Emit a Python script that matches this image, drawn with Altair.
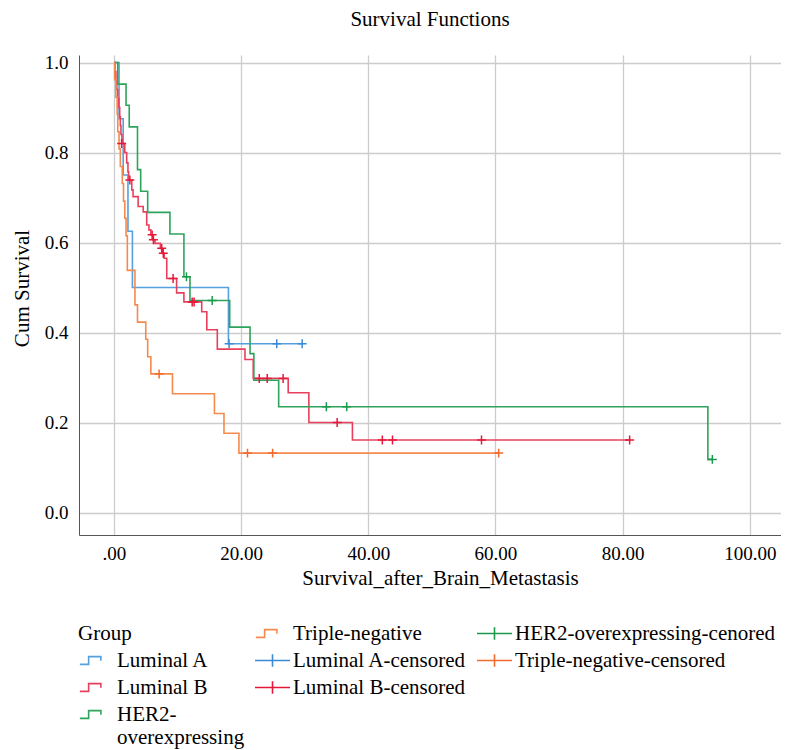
import altair as alt
import pandas as pd

# ---------------- data ----------------
# Luminal A
LUMA_T = [0, 0.8, 1.45, 2.2, 2.9, 18.0, 29.6]
LUMA_S = [1.0, 0.875, 0.75, 0.625, 0.5, 0.375, 0.375]
LUMA_CT = [18.1, 25.6, 29.6]
LUMA_CS = [0.375, 0.375, 0.375]

# Luminal B
LUMB_T = [0, 0.15, 0.3, 0.45, 0.6, 0.75, 0.9, 1.0, 1.1, 1.25, 1.7, 2.0, 2.2, 2.3, 2.8, 3.0,
          3.8, 4.6, 5.15, 5.5, 5.8, 6.1, 6.45, 7.3, 7.6, 7.9, 8.3, 9.85, 11.0, 13.8, 14.6,
          16.25, 20.6, 21.9, 27.4, 30.65, 37.5, 81.1]
LUMB_S = [1.0, 0.98, 0.96, 0.94, 0.92, 0.90, 0.88, 0.86, 0.84, 0.82, 0.80, 0.777, 0.757, 0.739,
          0.717, 0.702, 0.68, 0.668, 0.639, 0.628, 0.617, 0.606, 0.598, 0.587, 0.576, 0.565,
          0.52, 0.488, 0.468, 0.446, 0.406, 0.363, 0.340, 0.298, 0.266, 0.200, 0.161, 0.161]
LUMB_CT = [1.2, 2.5, 6.0, 6.2, 7.5, 7.75, 9.3, 12.3, 12.6, 22.85, 24.1, 26.6, 35.1, 42.2,
           43.8, 57.8, 81.1]
LUMB_CS = [0.82, 0.739, 0.617, 0.606, 0.587, 0.576, 0.52, 0.468, 0.468, 0.298, 0.298, 0.298,
           0.200, 0.161, 0.161, 0.161, 0.161]

# HER2-overexpressing
HER2_T = [0, 0.6, 1.9, 2.4, 3.7, 4.2, 5.3, 8.8, 11.0, 11.95, 18.2, 21.4, 22.0, 25.9, 93.4, 94.1]
HER2_S = [1.0, 0.952, 0.905, 0.857, 0.762, 0.714, 0.667, 0.619, 0.524, 0.471, 0.412, 0.353,
          0.294, 0.235, 0.118, 0.118]
HER2_CT = [11.4, 15.45, 33.4, 36.6, 94.1]
HER2_CS = [0.524, 0.471, 0.235, 0.235, 0.118]

# Triple-negative
TN_T = [0, 0.1, 0.3, 0.5, 0.6, 0.8, 1.0, 1.3, 1.5, 1.7, 1.9, 2.1, 3.3, 3.7, 5.0, 5.3, 5.8,
        9.2, 15.8, 17.3, 19.65, 60.5]
TN_S = [1.0, 0.962, 0.923, 0.885, 0.846, 0.808, 0.769, 0.731, 0.692, 0.654, 0.615, 0.538,
        0.4615, 0.423, 0.385, 0.346, 0.308, 0.264, 0.220, 0.176, 0.132, 0.132]
TN_CT = [7.1, 21.0, 24.95, 60.5]
TN_CS = [0.308, 0.132, 0.132, 0.132]

GROUPS = ["Luminal A", "Luminal B", "HER2-overexpressing", "Triple-negative"]
CENSORED = ["Luminal A-censored", "Luminal B-censored", "HER2-overexpressing-cenored",
            "Triple-negative-censored"]

X_TICKS = [0, 20, 40, 60, 80, 100]
Y_TICKS = [0.0, 0.2, 0.4, 0.6, 0.8, 1.0]

# ---------------- tables ----------------
curves = [(LUMA_T, LUMA_S), (LUMB_T, LUMB_S), (HER2_T, HER2_S), (TN_T, TN_S)]
cens = [(LUMA_CT, LUMA_CS), (LUMB_CT, LUMB_CS), (HER2_CT, HER2_CS), (TN_CT, TN_CS)]

rows = []
for name, (ts, ss) in zip(GROUPS, curves):
    for i, (t, s) in enumerate(zip(ts, ss)):
        rows.append({"t": t, "s": s, "series": name, "i": i})
lines_df = pd.DataFrame(rows)

crow = []
for name, (ts, ss) in zip(CENSORED, cens):
    for t, s in zip(ts, ss):
        crow.append({"t": t, "s": s, "series": name})
cens_df = pd.DataFrame(crow)

# ---------------- styling ----------------
FONT = "Liberation Serif"
C_BLUE, C_BLUE_C = "#55a0de", "#3b8bd4"
C_RED, C_RED_C = "#e8405c", "#e5183a"
C_GREEN, C_GREEN_C = "#2ea35c", "#1b9a4c"
C_ORANGE, C_ORANGE_C = "#f58a4e", "#f26a2c"
NONE = "transparent"

STEP = "M-0.95,0.22H-0.45V-0.22H0.25V0.02"
CROSS_L = "M-1,0H1M0,-0.36V0.36"
CROSS = "M-1,0H1M0,-1V1"

# legend entries, column by column (4 rows x 3 columns)
LEG_DOMAIN = ["_b1", "Luminal A", "Luminal B", "HER2-overexpressing",
              "Triple-negative", "Luminal A-censored", "Luminal B-censored", "_b2",
              "HER2-overexpressing-cenored", "Triple-negative-censored", "_b3", "_b4"]
GROUP_RANGE = [NONE, C_BLUE, C_RED, C_GREEN,
               C_ORANGE, NONE, NONE, NONE,
               NONE, NONE, NONE, NONE]
CENS_RANGE = [NONE, NONE, NONE, NONE,
              NONE, C_BLUE_C, C_RED_C, NONE,
              C_GREEN_C, C_ORANGE_C, NONE, NONE]

group_scale = alt.Scale(domain=LEG_DOMAIN, range=GROUP_RANGE)
cens_scale = alt.Scale(domain=LEG_DOMAIN, range=CENS_RANGE)

AX = dict(labelFont=FONT, labelFontSize=19, labelColor="#000000",
          titleFont=FONT, titleFontSize=21, titleFontWeight="normal", titleColor="#000000",
          gridColor="#cccccc", gridWidth=1.3, domainColor="#555555", domainWidth=1,
          ticks=False)

x_enc = alt.X("t:Q", scale=alt.Scale(domain=[-5.5, 104.9], nice=False, zero=False),
              axis=alt.Axis(values=X_TICKS, title="Survival_after_Brain_Metastasis",
                            labelExpr="datum.value == 0 ? '.00' : format(datum.value, '.2f')",
                            labelPadding=9, titlePadding=4, titleX=361, **AX))
y_enc = alt.Y("s:Q", scale=alt.Scale(domain=[-0.05, 1.0167], nice=False, zero=False),
              axis=alt.Axis(values=Y_TICKS, format=".1f", title="Cum Survival",
                            labelPadding=11, titlePadding=12, titleY=233, **AX))

lines = alt.Chart(lines_df).mark_line(interpolate="step-after", strokeWidth=1.6).encode(
    x=x_enc, y=y_enc,
    color=alt.Color("series:N", scale=group_scale, legend=None),
    order="i:Q",
)

marks = alt.Chart(cens_df).mark_point(shape=CROSS, size=80, filled=False, strokeWidth=1.5,
                                       opacity=1).encode(
    x="t:Q", y="s:Q",
    color=alt.Color("series:N", scale=cens_scale, legend=None),
)

LEG_COMMON = dict(
    orient="none", legendX=-1, legendY=568, columns=3, direction="vertical",
    symbolSize=1225, symbolStrokeWidth=1.6, clipHeight=21, rowPadding=5, columnPadding=9,
    labelOffset=2, labelFont=FONT, labelFontSize=21, labelLimit=400,
    titleFont=FONT, titleFontSize=21, titleFontWeight="normal",
    titlePadding=-21, padding=0,
    labelExpr="datum.label == 'HER2-overexpressing' ? ['HER2-', 'overexpressing'] : "
              "(substring(datum.label, 0, 2) == '_b' ? '' : datum.label)",
)

legend_groups = alt.Legend(title="Group", symbolType=STEP, labelColor="#000000",
                           titleColor="#000000", **LEG_COMMON)
legend_cens = alt.Legend(title="Group", symbolType=CROSS_L, labelColor=NONE,
                         titleColor=NONE, **LEG_COMMON)

leg_a = alt.Chart(cens_df).mark_point(filled=False, opacity=1, strokeWidth=1.6,
                                       shape=STEP).encode(
    color=alt.Color("series:N", scale=group_scale, legend=legend_groups),
).transform_filter("false")

leg_b = alt.Chart(cens_df).mark_point(filled=False, opacity=1, strokeWidth=1.6,
                                       shape=CROSS_L).encode(
    color=alt.Color("series:N", scale=cens_scale, legend=legend_cens),
).transform_filter("false")

chart = alt.layer(lines, marks, leg_a, leg_b).resolve_scale(color="independent").properties(
    width=702, height=480,
    autosize=alt.AutoSizeParams(type="none"),
    padding={"left": 71, "top": 47, "right": 0, "bottom": 215},
    title=alt.TitleParams("Survival Functions", font=FONT, fontSize=21, fontWeight="normal",
                          color="#000000", offset=24, anchor="middle"),
).configure_view(strokeWidth=0)

chart.save("out.html", embed_options={"renderer": "svg", "actions": False})
